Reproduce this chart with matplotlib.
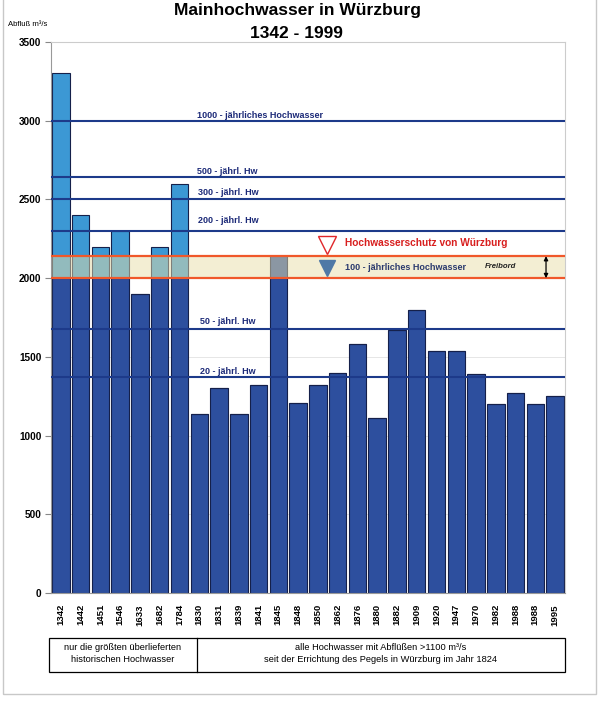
import matplotlib
matplotlib.use("Agg")
import matplotlib.pyplot as plt
from matplotlib.patches import Rectangle
from matplotlib.lines import Line2D

plt.rcParams['font.family'] = ['Liberation Sans', 'DejaVu Sans']

years = ["1342", "1442", "1451", "1546", "1633", "1682", "1784", "1830", "1831", "1839",
         "1841", "1845", "1848", "1850", "1862", "1876", "1880", "1882", "1909", "1920",
         "1947", "1970", "1982", "1988", "1988", "1995"]
flows = [3300, 2400, 2200, 2300, 1900, 2200, 2600, 1140, 1300, 1140,
         1320, 2140, 1210, 1320, 1400, 1580, 1110, 1670, 1800, 1540,
         1540, 1390, 1200, 1270, 1200, 1250]

return_levels = [3000, 2640, 2500, 2300, 1680, 1370]
return_labels = ["1000 - jährliches Hochwasser", "500 - jährl. Hw", "300 - jährl. Hw",
                 "200 - jährl. Hw", "50 - jährl. Hw", "20 - jährl. Hw"]
hq100 = 2000
protection = 2140

W, H = 600, 704
fig = plt.figure(figsize=(W / 100, H / 100), dpi=100)

def fx(px):
    return px / W

def fy(py):
    return 1 - py / H

ax = fig.add_axes([fx(51), fy(593), fx(565) - fx(51), fy(42) - fy(593)])

n = len(flows)
x = list(range(n))
dark = "#2d4f9e"
light = "#3c98d4"
edge = "#15204a"
bw = 0.88
low = [min(v, hq100) for v in flows]
high = [max(v - hq100, 0) for v in flows]
ax.bar(x, low, width=bw, color=dark, edgecolor=edge, linewidth=0.8, zorder=2)
hist = [i < 7 for i in range(n)]
high_cols = [light if h else dark for h in hist]
ax.bar(x, high, bottom=low, width=bw, color=high_cols, edgecolor=edge, linewidth=0.8, zorder=2)

# faint grid
for g in range(500, 3501, 500):
    ax.axhline(g, color="#e2e2e2", lw=0.6, zorder=0.5)

# freeboard band
ax.axhspan(hq100, protection, color="#e9dfa8", alpha=0.5, zorder=2.5, lw=0)
ax.axhline(hq100, color="#f0582a", lw=1.6, zorder=3.2)
ax.axhline(protection, color="#f0582a", lw=1.6, zorder=3.2)

navy = "#1d3a8a"
label_y = [3030, 2675, 2541, 2363, 1722, 1410]
label_x = [6.88, 6.88, 6.92, 6.92, 7.04, 7.06]
for lv, lb, ly, lx in zip(return_levels, return_labels, label_y, label_x):
    ax.axhline(lv, color=navy, lw=1.5, zorder=3)
    ax.text(lx, ly, lb, color="#1c2a78", fontsize=6.5, fontweight="bold",
            ha="left", va="center", zorder=4)

# protection annotation
ax.plot([13.46], [2208], marker="v", markersize=12.5, markerfacecolor="white",
        markeredgecolor="#e0262a", markeredgewidth=1.0, zorder=4, clip_on=False)
ax.text(14.35, 2224, "Hochwasserschutz von Würzburg", color="#d81e1e", fontsize=7.3,
        fontweight="bold", ha="left", va="center", zorder=4)
ax.plot([13.46], [2062], marker="v", markersize=12, color="#4f79a6", zorder=4)
ax.text(14.35, 2065, "100 - jährliches Hochwasser", color="#2a3a6e", fontsize=6.5,
        fontweight="bold", ha="left", va="center", zorder=4)
ax.text(21.45, 2071, "Freibord", color="#222222", fontsize=5.6, fontweight="bold",
        fontstyle="italic", ha="left", va="center", zorder=4)
ax.annotate("", xy=(24.54, protection), xytext=(24.54, hq100),
            arrowprops=dict(arrowstyle="<|-|>", color="black", lw=0.9,
                            mutation_scale=6, shrinkA=0, shrinkB=0), zorder=4)

ax.set_xlim(-0.5, n - 0.5)
ax.set_ylim(0, 3500)
ax.set_yticks(range(0, 3501, 500))
ax.set_yticklabels([str(v) for v in range(0, 3501, 500)], fontsize=7.2, fontweight="bold")
ax.set_xticks(x)
ax.set_xticklabels(years, rotation=90, fontsize=6.8, fontweight="bold")
ax.tick_params(axis="y", length=4, color="#888888", pad=3)
ax.tick_params(axis="x", length=0, pad=8)
for s in ["top", "right"]:
    ax.spines[s].set_color("#cccccc")
    ax.spines[s].set_linewidth(0.8)
ax.spines["left"].set_color("#999999")
ax.spines["bottom"].set_color("#999999")

# titles
fig.text(fx(297), fy(11), "Mainhochwasser in Würzburg", fontsize=12.5, fontweight="bold",
         ha="center", va="center")
fig.text(fx(296), fy(33), "1342 - 1999", fontsize=12.5, fontweight="bold",
         ha="center", va="center")
fig.text(fx(28), fy(25), "Abfluß m³/s", fontsize=5.6, ha="center", va="center",
         family=["Liberation Sans Narrow", "Liberation Sans", "DejaVu Sans"])

# table below
tx0, tx1, ty0, ty1, tdiv = 49, 565, 638, 672, 197
fig.add_artist(Rectangle((fx(tx0), fy(ty1)), fx(tx1) - fx(tx0), fy(ty0) - fy(ty1),
                         transform=fig.transFigure, fill=False, ec="black", lw=0.9))
fig.add_artist(Line2D([fx(tdiv), fx(tdiv)], [fy(ty0), fy(ty1)], transform=fig.transFigure,
                      color="black", lw=0.9))
narrow = ["Liberation Sans Narrow", "Liberation Sans", "DejaVu Sans"]
fs_tab = 6.65
fig.text(fx((tx0 + tdiv) / 2), fy(647), "nur die größten überlieferten", fontsize=fs_tab,
         ha="center", va="center", family=narrow)
fig.text(fx((tx0 + tdiv) / 2), fy(659), "historischen Hochwasser", fontsize=fs_tab,
         ha="center", va="center", family=narrow)
fig.text(fx((tdiv + tx1) / 2), fy(647), "alle Hochwasser mit Abflüßen >1100 m³/s", fontsize=fs_tab,
         ha="center", va="center", family=narrow)
fig.text(fx((tdiv + tx1) / 2), fy(659),
         "seit der Errichtung des Pegels in Würzburg im Jahr 1824", fontsize=fs_tab,
         ha="center", va="center", family=narrow)

# outer frame
fig.add_artist(Rectangle((fx(3), fy(694)), fx(596) - fx(3), fy(-5) - fy(694),
                         transform=fig.transFigure, fill=False, ec="#c8c8c8", lw=1.0))

fig.savefig("out.png", dpi=100)
